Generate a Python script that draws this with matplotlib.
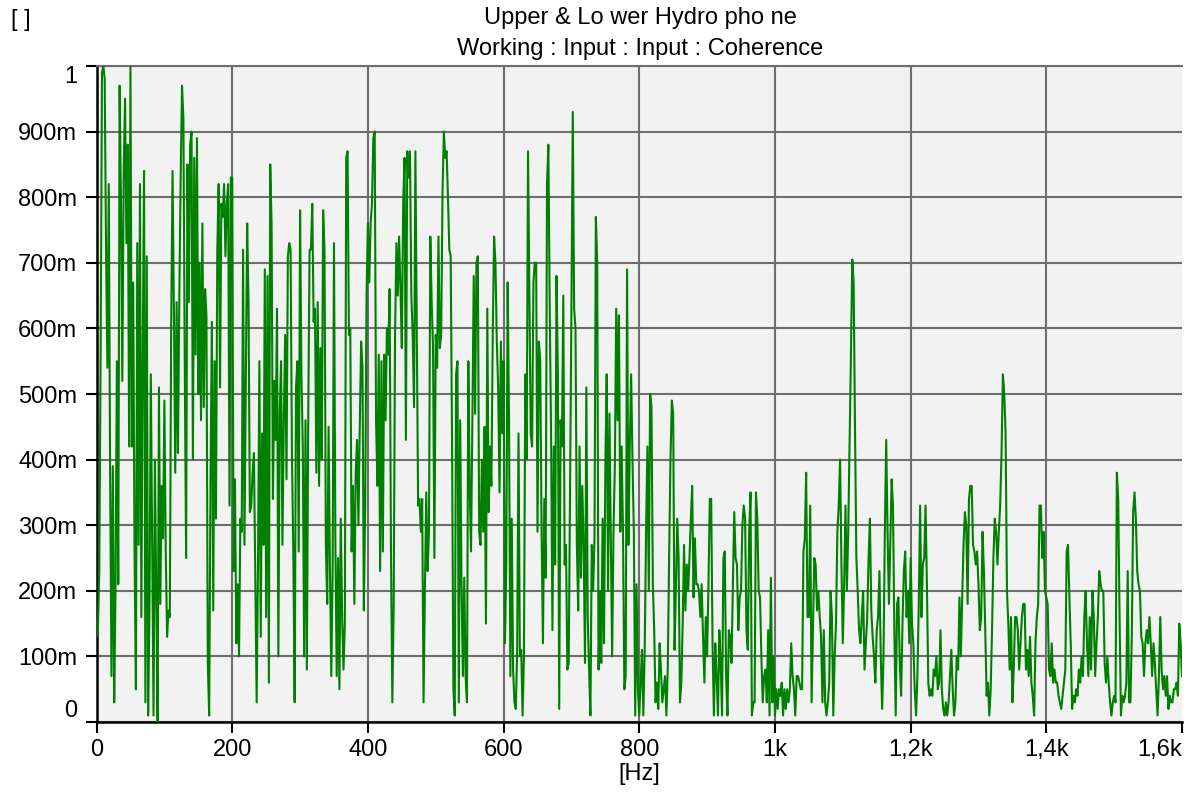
import matplotlib
matplotlib.use('Agg')
import matplotlib.pyplot as plt
import numpy as np

plt.rcParams['font.family'] = ['Liberation Sans', 'DejaVu Sans']

# coherence upper/lower hydrophone, milli-units, 2 Hz lines 0..1600 Hz
f_start, f_stop = 0.0, 1600.0
coh_m = [
    # 0 - 98 Hz
    130, 140, 230, 560, 990, 1000, 980, 720, 540, 820, 380, 70, 390, 30, 210, 550, 210, 970, 790, 520,
    840, 950, 730, 880, 420, 1000, 420, 670, 260, 50, 730, 270, 820, 160, 550, 840, 30, 710, 10, 170,
    530, 280, 10, 400, 190, 0, 510, 180, 360, 280,
    # 100 - 198 Hz
    490, 260, 130, 170, 160, 600, 840, 630, 380, 640, 410, 650, 830, 970, 920, 550, 250, 850, 640, 880,
    900, 400, 860, 560, 890, 500, 700, 460, 760, 480, 660, 620, 90, 10, 370, 610, 170, 550, 310, 720,
    820, 510, 790, 770, 820, 710, 790, 820, 330, 830,
    # 200 - 298 Hz
    830, 230, 370, 120, 210, 100, 310, 290, 720, 270, 520, 760, 640, 320, 330, 380, 410, 220, 30, 240,
    550, 130, 440, 270, 690, 160, 680, 60, 850, 760, 340, 520, 430, 630, 100, 470, 550, 270, 460, 590,
    370, 710, 730, 720, 410, 260, 30, 510, 550, 260,
    # 300 - 398 Hz
    780, 530, 420, 100, 460, 80, 460, 720, 720, 790, 610, 630, 380, 640, 360, 570, 400, 780, 720, 270,
    180, 450, 240, 70, 230, 730, 280, 70, 250, 50, 310, 160, 80, 150, 860, 870, 590, 600, 260, 360,
    180, 380, 430, 300, 450, 580, 540, 170, 330, 650,
    # 400 - 498 Hz
    760, 670, 760, 790, 890, 900, 460, 360, 560, 230, 550, 260, 560, 460, 600, 560, 660, 260, 30, 180,
    590, 730, 650, 740, 660, 570, 790, 860, 430, 870, 830, 870, 650, 590, 480, 870, 590, 330, 340, 290,
    340, 30, 200, 350, 230, 290, 740, 640, 570, 250,
    # 500 - 598 Hz
    590, 540, 740, 570, 590, 810, 900, 860, 870, 800, 720, 710, 430, 50, 10, 530, 550, 30, 460, 210,
    70, 220, 70, 30, 550, 360, 260, 460, 680, 470, 700, 710, 290, 270, 400, 290, 450, 150, 630, 320,
    420, 360, 590, 740, 700, 580, 510, 350, 580, 440,
    # 600 - 698 Hz
    550, 120, 240, 670, 460, 70, 310, 80, 30, 20, 110, 440, 100, 110, 10, 100, 530, 400, 870, 650,
    440, 420, 670, 700, 700, 290, 580, 550, 290, 120, 340, 220, 820, 880, 630, 440, 140, 420, 240, 680,
    530, 20, 460, 420, 650, 240, 270, 80, 90, 360,
    # 700 - 798 Hz
    630, 930, 630, 600, 270, 170, 420, 220, 360, 270, 90, 510, 160, 80, 10, 270, 200, 280, 770, 700,
    80, 200, 90, 310, 120, 390, 530, 200, 470, 290, 100, 290, 390, 630, 460, 620, 290, 420, 290, 50,
    70, 690, 270, 420, 530, 400, 290, 10, 210, 50,
    # 800 - 898 Hz
    10, 60, 110, 10, 110, 290, 420, 200, 500, 480, 210, 140, 30, 60, 20, 120, 80, 30, 50, 70,
    10, 80, 250, 400, 490, 470, 110, 200, 310, 250, 30, 60, 150, 270, 170, 240, 200, 250, 310, 360,
    190, 280, 210, 210, 200, 160, 210, 130, 60, 160,
    # 900 - 998 Hz
    100, 210, 340, 340, 120, 10, 120, 70, 10, 140, 90, 10, 250, 260, 70, 10, 140, 130, 90, 210,
    320, 250, 240, 140, 190, 200, 300, 330, 310, 140, 110, 290, 350, 10, 30, 30, 350, 310, 200, 190,
    100, 30, 70, 80, 30, 140, 10, 220, 30, 100,
    # 1000 - 1098 Hz
    10, 50, 20, 50, 40, 60, 10, 50, 20, 50, 30, 50, 120, 70, 50, 10, 70, 70, 60, 50,
    50, 260, 280, 380, 160, 160, 330, 30, 140, 250, 240, 170, 200, 160, 130, 30, 140, 30, 10, 30,
    60, 200, 160, 10, 100, 150, 290, 330, 400, 240,
    # 1100 - 1198 Hz
    120, 210, 330, 200, 290, 420, 560, 705, 670, 450, 250, 200, 140, 120, 160, 200, 80, 120, 160, 250,
    310, 170, 130, 100, 60, 140, 160, 230, 100, 20, 100, 290, 430, 290, 180, 270, 370, 330, 140, 10,
    180, 190, 90, 40, 150, 230, 260, 160, 200, 120,
    # 1200 - 1298 Hz
    250, 150, 120, 50, 10, 70, 180, 330, 160, 240, 250, 330, 210, 60, 40, 50, 40, 80, 70, 100,
    50, 60, 140, 50, 20, 10, 30, 10, 30, 70, 110, 50, 10, 30, 100, 80, 190, 100, 190, 270,
    320, 300, 180, 340, 360, 360, 270, 260, 240, 260,
    # 1300 - 1398 Hz
    210, 140, 160, 290, 230, 140, 40, 60, 10, 50, 140, 250, 310, 290, 240, 290, 330, 410, 530, 500,
    440, 200, 150, 80, 160, 30, 80, 160, 160, 140, 80, 120, 160, 180, 180, 80, 110, 70, 130, 60,
    40, 10, 120, 160, 180, 330, 330, 250, 290, 200,
    # 1400 - 1498 Hz
    190, 180, 80, 70, 120, 60, 80, 60, 60, 40, 30, 20, 40, 60, 80, 260, 270, 190, 120, 20,
    40, 30, 50, 40, 80, 60, 100, 70, 160, 200, 120, 70, 160, 80, 200, 160, 70, 120, 160, 230,
    210, 200, 200, 90, 60, 100, 60, 30, 10, 30,
    # 1500 - 1600 Hz
    40, 30, 380, 340, 160, 10, 40, 30, 40, 60, 230, 30, 30, 130, 320, 350, 310, 230, 210, 200,
    130, 120, 70, 120, 140, 120, 160, 120, 70, 120, 90, 50, 10, 70, 160, 80, 50, 70, 40, 70,
    20, 40, 30, 30, 50, 50, 60, 40, 150, 120, 70,
]

x_ticks = [0, 200, 400, 600, 800, 1000, 1200, 1400, 1600]
x_labels = ['0', '200', '400', '600', '800', '1k', '1,2k', '1,4k', '1,6k']
y_ticks = [0, 0.1, 0.2, 0.3, 0.4, 0.5, 0.6, 0.7, 0.8, 0.9, 1.0]
y_labels = ['0', '100m', '200m', '300m', '400m', '500m', '600m', '700m', '800m', '900m', '1']

coh = np.array(coh_m) / 1000.0
freq = np.linspace(f_start, f_stop, len(coh))

grid_col = '#6e6e6e'
fs = 17

fig = plt.figure(figsize=(11.92, 7.93), dpi=100)
ax = fig.add_axes([0.081, 0.0895, 0.9106, 0.8273])
ax.set_facecolor('#f2f2f2')

ax.plot(freq, coh, color='#008000', lw=1.5, zorder=3)

ax.set_xlim(f_start, f_stop)
ax.set_ylim(0, 1)
ax.set_xticks(x_ticks)
ax.set_xticklabels(x_labels)
ax.set_yticks(y_ticks)
ax.set_yticklabels(y_labels)

ax.grid(True, color=grid_col, lw=1.5)
ax.set_axisbelow(True)
ax.get_xgridlines()[-1].set_visible(False)

ax.spines['right'].set_visible(False)
ax.spines['top'].set_color(grid_col)
ax.spines['top'].set_linewidth(1.5)
for s in ['left', 'bottom']:
    ax.spines[s].set_color('black')
    ax.spines[s].set_linewidth(1.8)

ax.tick_params(axis='x', direction='out', length=8, width=1.5, pad=4, labelsize=fs)
ax.tick_params(axis='y', direction='out', length=8, width=1.5, pad=6, labelsize=fs)

# end labels pulled inside the frame
ylbls = ax.get_yticklabels()
ylbls[0].set_verticalalignment('bottom')
ylbls[-1].set_verticalalignment('top')
ax.get_xticklabels()[-1].set_horizontalalignment('right')

ax.set_xlabel('[Hz]', fontsize=fs)
ax.xaxis.set_label_coords(0.5, -0.062)

fig.text(0.537, 0.977, 'Upper & Lo wer Hydro pho ne', ha='center', va='center', fontsize=fs)
fig.text(0.537, 0.938, 'Working : Input : Input : Coherence', ha='center', va='center', fontsize=fs)
fig.text(0.009, 0.975, '[ ]', ha='left', va='center', fontsize=fs)

fig.savefig('out.png', dpi=100)
